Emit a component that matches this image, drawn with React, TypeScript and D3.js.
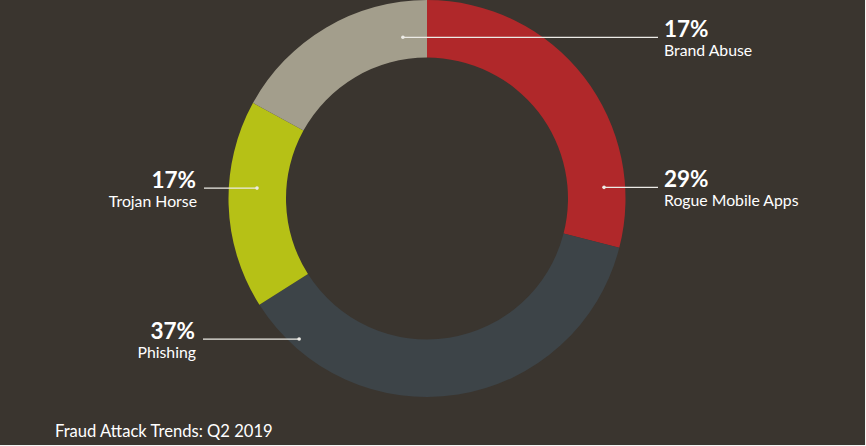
import React from "react";
import * as d3 from "d3";

const categories = ["Rogue Mobile Apps", "Phishing", "Trojan Horse", "Brand Abuse"];
const values = [29, 37, 17, 17];
const colors = ["#b0282a", "#3d4448", "#b6c116", "#a39e8c"];
const title = "Fraud Attack Trends: Q2 2019";

// label layout: dot polar position (deg clockwise from top, radius), side, line end x, label anchor x
const labelLayout = [
  { dotAngle: 86.4, dotR: 177.4, side: "right", lineEnd: 658, textX: 664 },
  { dotAngle: 222.3, dotR: 190, side: "left", lineEnd: 203, textX: 195 },
  { dotAngle: 273.5, dotR: 170.3, side: "left", lineEnd: 204, textX: 196 },
  { dotAngle: 351.5, dotR: 163, side: "right", lineEnd: 658, textX: 664 },
];

const W = 866;
const H = 446;
const cx = 427;
const cy = 198.5;
const outerR = 198.5;
const innerR = 141;

export default function App() {
  const pie = d3
    .pie<number>()
    .sort(null)
    .value((d) => d)
    .startAngle(0)
    .endAngle(2 * Math.PI);
  const arcs = pie(values);
  const arc = d3.arc<d3.PieArcDatum<number>>().innerRadius(innerR).outerRadius(outerR);
  const total = d3.sum(values);
  const font = "Lato, 'Open Sans', sans-serif";

  return (
    <svg
      width={W}
      height={H}
      style={{ position: "absolute", left: 0, top: 0, display: "block" }}
    >
      <rect x={0} y={0} width={W} height={H} fill="#f4f4f4" />
      <rect x={0} y={0} width={W - 1} height={H - 1} fill="#3a352f" />
      <g transform={`translate(${cx},${cy})`}>
        {arcs.map((a, i) => (
          <path key={i} d={arc(a) || ""} fill={colors[i]} />
        ))}
      </g>
      {arcs.map((a, i) => {
        const l = labelLayout[i];
        const ang = (l.dotAngle * Math.PI) / 180;
        const dx = cx + Math.sin(ang) * l.dotR;
        const dy = cy - Math.cos(ang) * l.dotR;
        const anchor = l.side === "right" ? "start" : "end";
        const pct = Math.round((values[i] / total) * 100) + "%";
        return (
          <g key={"l" + i}>
            <line x1={dx} y1={dy} x2={l.lineEnd} y2={dy} stroke="#ecebe6" strokeWidth={1.3} />
            <circle cx={dx} cy={dy} r={1.8} fill="#ecebe6" />
            <text
              x={l.textX}
              y={dy - 0.5}
              textAnchor={anchor}
              fill="#ffffff"
              fontFamily={font}
              fontWeight={700}
              fontSize={22.5}
            >
              {pct}
            </text>
            <text
              x={l.textX + (l.side === "right" ? 0 : 1)}
              y={dy + 18.5}
              textAnchor={anchor}
              fill="#ffffff"
              fontFamily={font}
              fontSize={15.8}
            >
              {categories[i]}
            </text>
          </g>
        );
      })}
      <text x={55} y={437} fill="#ffffff" fontFamily={font} fontSize={16.6}>
        {title}
      </text>
    </svg>
  );
}
